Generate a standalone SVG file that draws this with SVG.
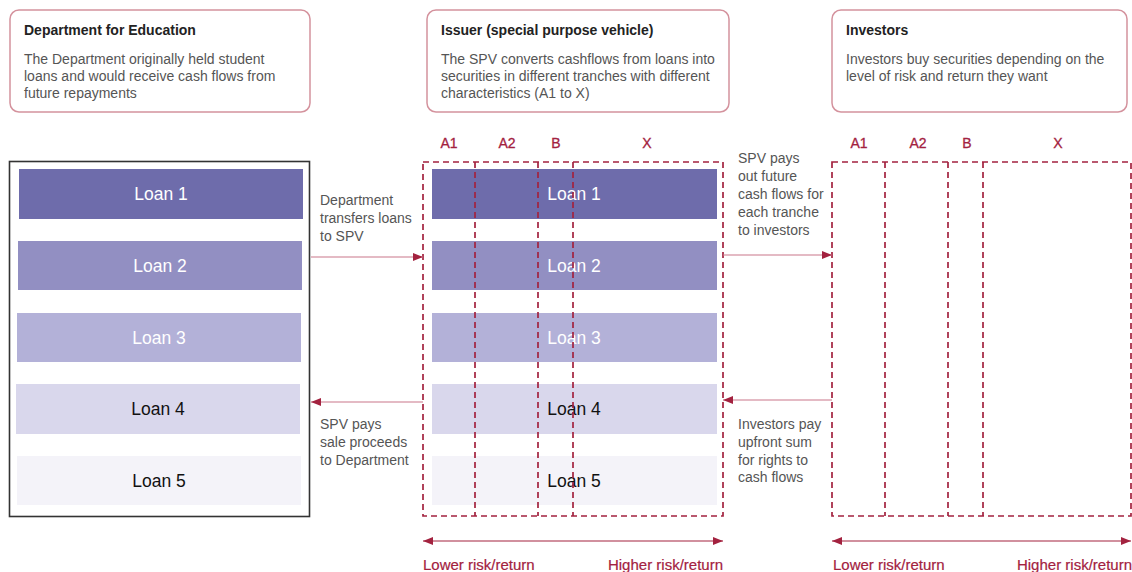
<svg xmlns="http://www.w3.org/2000/svg" width="1132" height="572" viewBox="0 0 1132 572">
<defs>
<marker id="ah" viewBox="0 0 10 8" refX="10" refY="4" markerWidth="10" markerHeight="8" markerUnits="userSpaceOnUse" orient="auto-start-reverse">
<path d="M0,0 L10,4 L0,8 Z" fill="#a3223f"/>
</marker>
</defs>
<style>
text{font-family:"Liberation Sans",Arial,sans-serif}
.card{fill:#fff;stroke:#d4929d;stroke-width:1.5}
.title{font-size:14px;font-weight:bold;fill:#222}
.body{font-size:14px;fill:#555}
.note{font-size:14px;fill:#555}
.loan{font-size:17.5px;text-anchor:middle}
.w{fill:#fff}
.k{fill:#111}
.dash{fill:none;stroke:#a3223f;stroke-width:1.7;stroke-dasharray:6,4}
.tr{font-size:14px;fill:#a3223f;text-anchor:middle;stroke:#a3223f;stroke-width:0.3}
.risk{font-size:15px;fill:#a3223f;stroke:#a3223f;stroke-width:0.2}
.conn{stroke:#c9768a;stroke-width:1.2;fill:none}
.rconn{stroke:#a3223f;stroke-width:1.2;fill:none}
</style>

<g id="card-dfe">
<rect class="card" x="10" y="10" width="300" height="102" rx="9"/>
<text class="title" x="24" y="35">Department for Education</text>
<text class="body" x="24" y="64">The Department originally held student</text>
<text class="body" x="24" y="81">loans and would receive cash flows from</text>
<text class="body" x="24" y="98">future repayments</text>
</g>
<g id="card-spv">
<rect class="card" x="427" y="10" width="302" height="102" rx="9"/>
<text class="title" x="441" y="35">Issuer (special purpose vehicle)</text>
<text class="body" x="441" y="64">The SPV converts cashflows from loans into</text>
<text class="body" x="441" y="81">securities in different tranches with different</text>
<text class="body" x="441" y="98">characteristics (A1 to X)</text>
</g>
<g id="card-inv">
<rect class="card" x="832" y="10" width="295" height="102" rx="9"/>
<text class="title" x="846" y="35">Investors</text>
<text class="body" x="846" y="64">Investors buy securities depending on the</text>
<text class="body" x="846" y="81">level of risk and return they want</text>
</g>

<g id="dfe-loans">
<rect x="9.5" y="161.5" width="300" height="355" fill="#fff" stroke="#333" stroke-width="1.6"/>
<rect x="19" y="169" width="284" height="50" fill="#6e6cab"/>
<text class="loan w" x="161" y="200">Loan 1</text>
<rect x="18" y="241" width="284" height="49" fill="#928fc2"/>
<text class="loan w" x="160" y="272">Loan 2</text>
<rect x="17" y="313" width="284" height="49" fill="#b3b1d8"/>
<text class="loan w" x="159" y="344">Loan 3</text>
<rect x="16" y="384" width="284" height="50" fill="#d9d7ec"/>
<text class="loan k" x="158" y="415">Loan 4</text>
<rect x="17" y="456" width="284" height="49" fill="#f4f3f9"/>
<text class="loan k" x="159" y="487">Loan 5</text>
</g>

<g id="spv-tranches">
<rect x="432" y="169" width="285" height="50" fill="#6e6cab"/>
<rect x="432" y="241" width="285" height="49" fill="#928fc2"/>
<rect x="432" y="313" width="285" height="49" fill="#b3b1d8"/>
<rect x="432" y="384" width="285" height="50" fill="#d9d7ec"/>
<rect x="432" y="456" width="285" height="49" fill="#f4f3f9"/>
<text class="loan w" x="574" y="200">Loan 1</text>
<text class="loan w" x="574" y="272">Loan 2</text>
<text class="loan w" x="574" y="344">Loan 3</text>
<text class="loan k" x="574" y="415">Loan 4</text>
<text class="loan k" x="574" y="487">Loan 5</text>
<rect class="dash" x="423" y="162" width="300" height="354"/>
<line class="dash" x1="475" y1="162" x2="475" y2="516"/>
<line class="dash" x1="538" y1="162" x2="538" y2="516"/>
<line class="dash" x1="573" y1="162" x2="573" y2="516"/>
<text class="tr" x="449" y="148">A1</text>
<text class="tr" x="507" y="148">A2</text>
<text class="tr" x="556" y="148">B</text>
<text class="tr" x="647" y="148">X</text>
</g>

<g id="investor-tranches">
<rect class="dash" x="832" y="162" width="299" height="354"/>
<line class="dash" x1="885" y1="162" x2="885" y2="516"/>
<line class="dash" x1="948" y1="162" x2="948" y2="516"/>
<line class="dash" x1="983" y1="162" x2="983" y2="516"/>
<text class="tr" x="859" y="148">A1</text>
<text class="tr" x="918" y="148">A2</text>
<text class="tr" x="967" y="148">B</text>
<text class="tr" x="1058" y="148">X</text>
</g>

<g id="connectors">
<line class="conn" x1="311" y1="257" x2="423" y2="257" marker-end="url(#ah)"/>
<line class="conn" x1="423" y1="402" x2="311" y2="402" marker-end="url(#ah)"/>
<line class="conn" x1="723" y1="255" x2="832" y2="255" marker-end="url(#ah)"/>
<line class="conn" x1="832" y1="400" x2="723" y2="400" marker-end="url(#ah)"/>
<line class="rconn" x1="423" y1="541" x2="723" y2="541" marker-start="url(#ah)" marker-end="url(#ah)"/>
<line class="rconn" x1="832" y1="541" x2="1131" y2="541" marker-start="url(#ah)" marker-end="url(#ah)"/>
</g>

<g id="labels">
<text class="note" x="320" y="205">Department</text>
<text class="note" x="320" y="223">transfers loans</text>
<text class="note" x="320" y="241">to SPV</text>
<text class="note" x="320" y="429">SPV pays</text>
<text class="note" x="320" y="447">sale proceeds</text>
<text class="note" x="320" y="465">to Department</text>
<text class="note" x="738" y="163">SPV pays</text>
<text class="note" x="738" y="181">out future</text>
<text class="note" x="738" y="199">cash flows for</text>
<text class="note" x="738" y="217">each tranche</text>
<text class="note" x="738" y="235">to investors</text>
<text class="note" x="738" y="429">Investors pay</text>
<text class="note" x="738" y="447">upfront sum</text>
<text class="note" x="738" y="465">for rights to</text>
<text class="note" x="738" y="482">cash flows</text>
<text class="risk" x="423" y="570">Lower risk/return</text>
<text class="risk" x="723" y="570" text-anchor="end">Higher risk/return</text>
<text class="risk" x="833" y="570">Lower risk/return</text>
<text class="risk" x="1132" y="570" text-anchor="end">Higher risk/return</text>
</g>
</svg>
